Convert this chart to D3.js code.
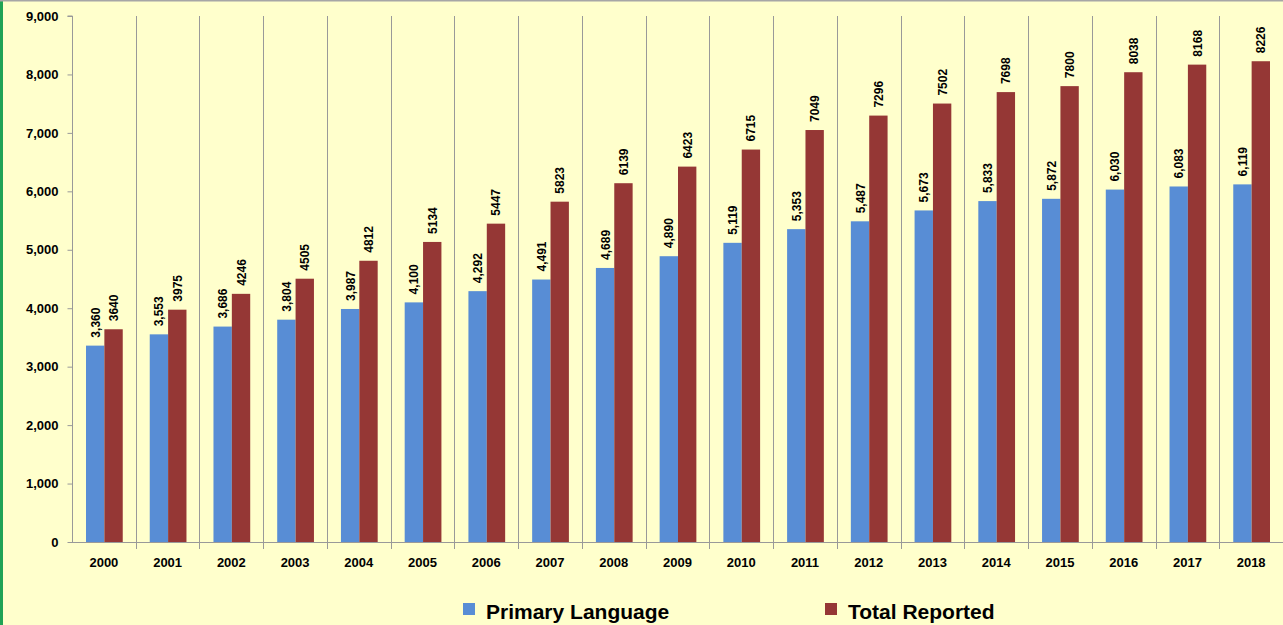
<!DOCTYPE html>
<html>
<head>
<meta charset="utf-8">
<script src="https://cdn.jsdelivr.net/npm/d3@7"></script>
<style>
  html, body { margin: 0; padding: 0; background: #ffffcc; }
  svg { display: block; font-family: 'Liberation Sans', Arial, sans-serif; }
</style>
</head>
<body>
<div id="chart"></div>
<script>
const years = ['2000', '2001', '2002', '2003', '2004', '2005', '2006', '2007', '2008', '2009',
  '2010', '2011', '2012', '2013', '2014', '2015', '2016', '2017', '2018']
const primary = [3360, 3553, 3686, 3804, 3987, 4100, 4292, 4491, 4689, 4890,
  5119, 5353, 5487, 5673, 5833, 5872, 6030, 6083, 6119]
const total = [3640, 3975, 4246, 4505, 4812, 5134, 5447, 5823, 6139, 6423,
  6715, 7049, 7296, 7502, 7698, 7800, 8038, 8168, 8226]
const yTicks = [0, 1000, 2000, 3000, 4000, 5000, 6000, 7000, 8000, 9000]
const seriesNames = ['Primary Language', 'Total Reported']

const width = 1283
const height = 625
const marginLeft = 72
const marginRight = 0
const marginTop = 16
const marginBottom = 83
const colors = ['#588dd5', '#953735']
const gridColor = '#999999'

const svg = d3.select('#chart').append('svg')
  .attr('width', width)
  .attr('height', height)

svg.append('rect')
  .attr('width', width).attr('height', height)
  .attr('fill', '#ffffcc')

// frame bits: green left edge, grey top edge
svg.append('rect').attr('x', 0).attr('y', 0).attr('width', 3).attr('height', height).attr('fill', '#1fa355')
svg.append('rect').attr('x', 0).attr('y', 0).attr('width', width).attr('height', 1.5).attr('fill', '#a6a6a6')

const x = d3.scaleBand()
  .domain(years)
  .range([marginLeft, width - marginRight])

const y = d3.scaleLinear()
  .domain([0, 9000])
  .range([height - marginBottom, marginTop])

const inner = d3.scaleBand()
  .domain([0, 1])
  .range([14, x.bandwidth() - 13])

// vertical separators between categories
svg.append('g')
  .selectAll('line')
  .data(years.slice(1).concat(['end']))
  .join('line')
  .attr('x1', (d, i) => Math.round(marginLeft + x.step() * (i + 1)) + 0.5)
  .attr('x2', (d, i) => Math.round(marginLeft + x.step() * (i + 1)) + 0.5)
  .attr('y1', marginTop)
  .attr('y2', height - marginBottom + 7)
  .attr('stroke', gridColor)
  .attr('stroke-width', 1)

// y axis
const yAxis = d3.axisLeft(y)
  .tickValues(yTicks)
  .tickSize(5)
  .tickPadding(9)
  .tickFormat(d3.format(','))

svg.append('g')
  .attr('transform', `translate(${marginLeft + 0.5}, 0)`)
  .call(yAxis)
  .call(g => g.select('.domain').attr('stroke', gridColor).attr('d', `M-5,${y(9000)}H0V${y(0)}`))
  .call(g => g.selectAll('.tick line').attr('stroke', gridColor))
  .call(g => g.selectAll('.tick text')
    .attr('fill', '#000')
    .attr('font-size', '13px')
    .attr('font-weight', 'bold'))

// x axis
const xAxis = d3.axisBottom(x).tickSize(0).tickPadding(15)
svg.append('g')
  .attr('transform', `translate(0, ${y(0) + 0.5})`)
  .call(xAxis)
  .call(g => g.select('.domain').attr('stroke', gridColor).attr('d', `M${marginLeft - 4},0H${width}`))
  .call(g => g.selectAll('.tick text')
    .attr('fill', '#000')
    .attr('font-size', '13px')
    .attr('font-weight', 'bold'))

// bars
const series = [primary, total]
const fmt = [d3.format(','), d3.format('d')]

series.forEach((vals, s) => {
  const g = svg.append('g')
  g.selectAll('rect')
    .data(vals)
    .join('rect')
    .attr('x', (d, i) => x(years[i]) + inner(s))
    .attr('width', inner.bandwidth())
    .attr('y', d => y(d))
    .attr('height', d => y(0) - y(d))
    .attr('fill', colors[s])

  g.selectAll('text')
    .data(vals)
    .join('text')
    .attr('transform', (d, i) => `translate(${x(years[i]) + inner(s) + inner.bandwidth() / 2 + 4.5}, ${y(d) - 8}) rotate(-90)`)
    .attr('font-size', '12px')
    .attr('font-weight', 'bold')
    .attr('fill', '#000')
    .text(d => fmt[s](d))
})

// legend
const legendX = [463, 825]
const legend = svg.append('g')
seriesNames.forEach((name, s) => {
  legend.append('rect')
    .attr('x', legendX[s]).attr('y', 603)
    .attr('width', 12).attr('height', 12)
    .attr('fill', colors[s])
  legend.append('text')
    .attr('x', legendX[s] + 23).attr('y', 619)
    .attr('font-size', '21px')
    .attr('font-weight', 'bold')
    .attr('fill', '#000')
    .text(name)
})
</script>
</body>
</html>
